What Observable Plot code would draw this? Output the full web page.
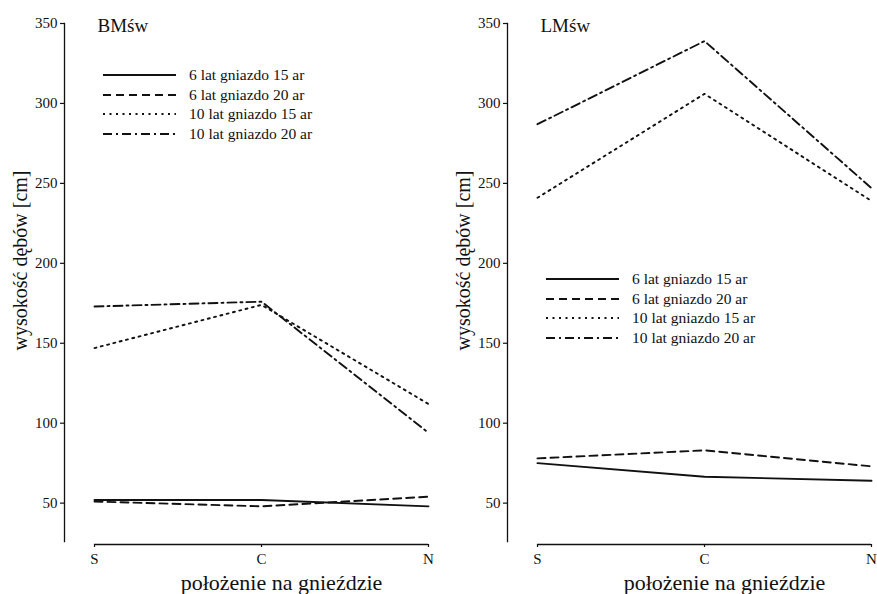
<!DOCTYPE html>
<html>
<head>
<meta charset="utf-8">
<script src="https://cdn.jsdelivr.net/npm/d3@7"></script>
<script src="https://cdn.jsdelivr.net/npm/@observablehq/plot@0.6"></script>
<style>
  html, body { margin: 0; padding: 0; background: #fff; }
  #wrap { position: relative; width: 877px; height: 594px; background: #fff; font-family: "Liberation Serif", serif; color: #111; }
  .panel { position: absolute; top: 0; }
  .legend { position: absolute; font-family: "Liberation Serif", serif; font-size: 15.5px; color: #111; }
  .legend .row { display: flex; align-items: center; height: 19.7px; }
  .legend svg { margin-right: 13px; }
</style>
</head>
<body>
<div id="wrap"></div>
<script>
// ---- data ----
const positions = ["S", "C", "N"];
const seriesNames = ["6 lat gniazdo 15 ar", "6 lat gniazdo 20 ar", "10 lat gniazdo 15 ar", "10 lat gniazdo 20 ar"];
const panelTitles = ["BMśw", "LMśw"];
const yTicks = [50, 100, 150, 200, 250, 300, 350];
const yLabel = "wysokość dębów [cm]";
const xLabel = "położenie na gnieździe";

// BMśw
const bm_6_15 = [52, 52, 48];
const bm_6_20 = [51, 48, 54];
const bm_10_15 = [147, 174, 112];
const bm_10_20 = [173, 176, 94];
// LMśw
const lm_6_15 = [75, 66.5, 64];
const lm_6_20 = [78, 83, 73];
const lm_10_15 = [241, 306, 239];
const lm_10_20 = [287, 339, 247];

const dashes = ["none", "8 5", "2 4.5", "9 4 2 4"];
const ink = "#111";
const serif = "'Liberation Serif', serif";

function rows(vals) { return positions.map((p, i) => ({pos: p, v: vals[i]})); }

function panel(title, seriesVals, opts) {
  const marks = [
    Plot.frame({anchor: "left", stroke: ink, strokeWidth: 1.3}),
    Plot.ruleY([26], {x1: () => positions[0], x2: () => positions[positions.length - 1], dy: 3, stroke: ink, strokeWidth: 1.3}),
    Plot.axisY({ticks: yTicks, tickSize: 4, tickPadding: 3, label: null, fontSize: 15, strokeWidth: 1.2}),
    Plot.axisX({tickSize: 3, tickPadding: 6, dy: 3, label: null, fontSize: 15, strokeWidth: 1.2}),
    ...seriesVals.map((vals, i) => Plot.line(rows(vals), {x: "pos", y: "v", stroke: ink, strokeWidth: 1.9, strokeDasharray: dashes[i] === "none" ? undefined : dashes[i]})),
    Plot.text([title], {x: () => positions[0], frameAnchor: "top", textAnchor: "start", lineAnchor: "middle", dx: 3, dy: 2, fontSize: 19, fill: ink}),
    Plot.text([yLabel], {frameAnchor: "left", textAnchor: "middle", lineAnchor: "middle", rotate: -90, dx: -44, dy: -22, fontSize: 20, fill: ink}),
    Plot.text([xLabel], {x: () => positions[1], frameAnchor: "bottom", textAnchor: "middle", lineAnchor: "middle", dy: 41, dx: 20, fontSize: 22, fill: ink})
  ];
  return Plot.plot({
    width: opts.width,
    height: 594,
    marginLeft: 64,
    marginRight: opts.marginRight,
    marginTop: 23,
    marginBottom: 53,
    x: {type: "point", domain: positions, padding: 0, insetLeft: 29},
    y: {domain: [26, 350]},
    style: {fontFamily: serif, fontSize: "15px", color: ink, background: "transparent"},
    marks
  });
}

function legend(left, top) {
  const div = document.createElement("div");
  div.className = "legend";
  div.style.left = left + "px";
  div.style.top = top + "px";
  seriesNames.forEach((name, i) => {
    const row = document.createElement("div");
    row.className = "row";
    const svg = d3.create("svg").attr("width", 73).attr("height", 6);
    svg.append("line").attr("x1", 0).attr("x2", 73).attr("y1", 3).attr("y2", 3)
      .attr("stroke", ink).attr("stroke-width", 2)
      .attr("stroke-dasharray", dashes[i] === "none" ? null : dashes[i]);
    row.appendChild(svg.node());
    const span = document.createElement("span");
    span.textContent = name;
    row.appendChild(span);
    div.appendChild(row);
  });
  return div;
}

const wrap = document.getElementById("wrap");
const p1 = panel(panelTitles[0], [bm_6_15, bm_6_20, bm_10_15, bm_10_20], {width: 440, marginRight: 12});
p1.classList.add("panel"); p1.style.left = "0px";
const p2 = panel(panelTitles[1], [lm_6_15, lm_6_20, lm_10_15, lm_10_20], {width: 434, marginRight: 6});
p2.classList.add("panel"); p2.style.left = "443px";
wrap.appendChild(p1);
wrap.appendChild(p2);
wrap.appendChild(legend(103, 65));
wrap.appendChild(legend(546, 269));
</script>
</body>
</html>
